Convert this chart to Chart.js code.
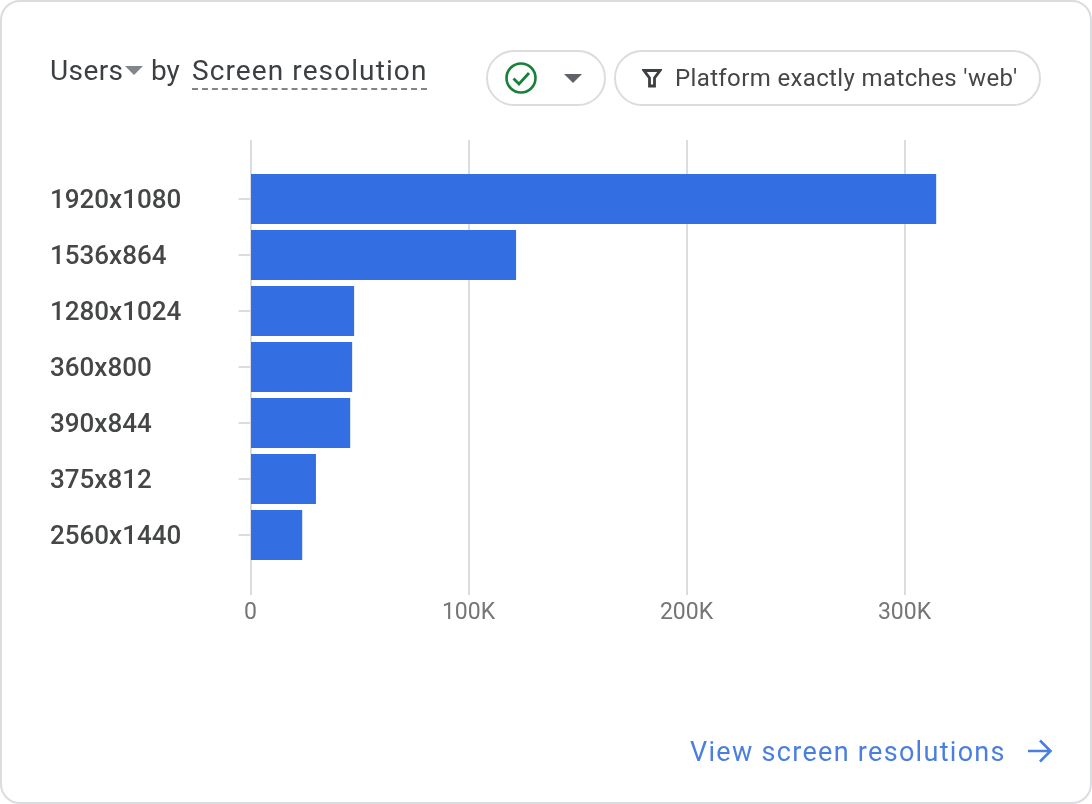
<!DOCTYPE html>
<html>
<head>
<meta charset="utf-8">
<script src="https://cdn.jsdelivr.net/npm/chart.js@4"></script>
<style>
  html, body { margin: 0; padding: 0; background: #fff; }
  #card { position: relative; width: 1092px; height: 804px; overflow: hidden; font-family: Roboto, sans-serif; }
  #frame { position: absolute; left: 0; top: 0; width: 1088px; height: 800px; border: 2px solid #dadce0; border-radius: 20px; }
  canvas { position: absolute; left: 0; top: 0; }
  .txt { position: absolute; white-space: nowrap; }
  #title { left: 50px; top: 53px; font-size: 28px; line-height: 36px; color: #3c4043; letter-spacing: 0.4px; }
  #metric { left: 192px; top: 53px; font-size: 28px; line-height: 36px; color: #3c4043; border-bottom: 2px dashed #80868b; height: 35px; letter-spacing: 1.1px; }
  .pill { position: absolute; top: 50px; height: 52px; border: 2px solid #dadce0; border-radius: 28px; background: #fff; }
  #filter { left: 675px; top: 62px; font-size: 24px; line-height: 32px; color: #444746; letter-spacing: 0.37px; }
  #link { left: 690px; top: 735px; font-size: 27px; line-height: 34px; color: #4a7fe0; letter-spacing: 1.3px; }
  svg { position: absolute; }
</style>
</head>
<body>
<div id="card">
  <div id="frame"></div>
  <canvas id="myChart" width="1092" height="804"></canvas>
  <div class="txt" id="title">Users</div>
  <svg style="left:125px;top:66px" width="18" height="10"><path d="M0 0H18L9 9Z" fill="#80868b"/></svg>
  <div class="txt" style="left:151px;top:53px;font-size:28px;line-height:36px;color:#3c4043">by</div>
  <div class="txt" id="metric">Screen resolution</div>
  <div class="pill" style="left:486px;width:116px"></div>
  <svg style="left:503px;top:60px" width="36" height="36" viewBox="0 0 36 36"><circle cx="18" cy="18" r="14.5" fill="none" stroke="#188038" stroke-width="2.6"/><path d="M10.5 18.5L16 24L26 13" fill="none" stroke="#188038" stroke-width="2.8"/></svg>
  <svg style="left:564px;top:74px" width="18" height="10"><path d="M0 0H18L9 9Z" fill="#5f6368"/></svg>
  <div class="pill" style="left:614px;width:423px"></div>
  <svg style="left:642px;top:68px" width="20" height="20" viewBox="0 0 20 20"><path d="M2 2.5H18L12.5 10V18H7.5V10Z" fill="none" stroke="#3c4043" stroke-width="2.8"/></svg>
  <div class="txt" id="filter">Platform exactly matches 'web'</div>
  <div class="txt" id="link">View screen resolutions</div>
  <svg style="left:1027px;top:738px" width="26" height="26" viewBox="0 0 26 26"><path d="M1 13H23M13 2.5L23.5 13L13 23.5" fill="none" stroke="#4a7fe0" stroke-width="2.6"/></svg>
</div>
<script>
const resolutions = ['1920x1080', '1536x864', '1280x1024', '360x800', '390x844', '375x812', '2560x1440'];
const users = [314300, 121600, 47300, 46400, 45500, 29800, 23500];
const xTicks = [0, 100000, 200000, 300000];
const xTickLabels = ['0', '100K', '200K', '300K'];

const ctx = document.getElementById('myChart').getContext('2d');

new Chart(ctx, {
  type: 'bar',
  data: {
    datasets: [{
      label: 'Users',
      data: users.map((v, i) => ({ x: v, y: i })),
      backgroundColor: '#336fe2',
      barThickness: 49,
      inflateAmount: 0.5,
    }],
  },
  options: {
    indexAxis: 'y',
    responsive: false,
    animation: false,
    layout: { padding: { left: 50, top: 140, right: 78.5, bottom: 169 } },
    plugins: { legend: { display: false }, tooltip: { enabled: false } },
    scales: {
      x: {
        type: 'linear',
        min: 0,
        max: 350000,
        afterBuildTicks: (scale) => { scale.ticks = xTicks.map(value => ({ value })); },
        afterFit: (scale) => { scale.height = 40; },
        grid: { color: '#dadce0', lineWidth: 2, drawTicks: false },
        border: { display: false },
        ticks: {
          padding: 4,
          color: '#757575',
          font: { family: 'Roboto', size: 23 },
          maxRotation: 0,
          callback: (v) => xTickLabels[xTicks.indexOf(v)],
        },
      },
      y: {
        type: 'linear',
        offset: false,
        reverse: true,
        min: -1.0536,
        max: 7.0714,
        afterBuildTicks: (scale) => { scale.ticks = resolutions.map((_, i) => ({ value: i })); },
        afterFit: (scale) => { scale.width = 200.5; },
        grid: { offset: false, drawOnChartArea: false, drawTicks: true, tickLength: 12, tickColor: '#dadce0', lineWidth: 2 },
        border: { display: false },
        ticks: {
          crossAlign: 'far',
          labelOffset: 2,
          color: '#444746',
          font: { family: 'Roboto', size: 26, weight: '500' },
          callback: (v) => resolutions[v],
        },
      },
    },
  },
});
</script>
</body>
</html>
